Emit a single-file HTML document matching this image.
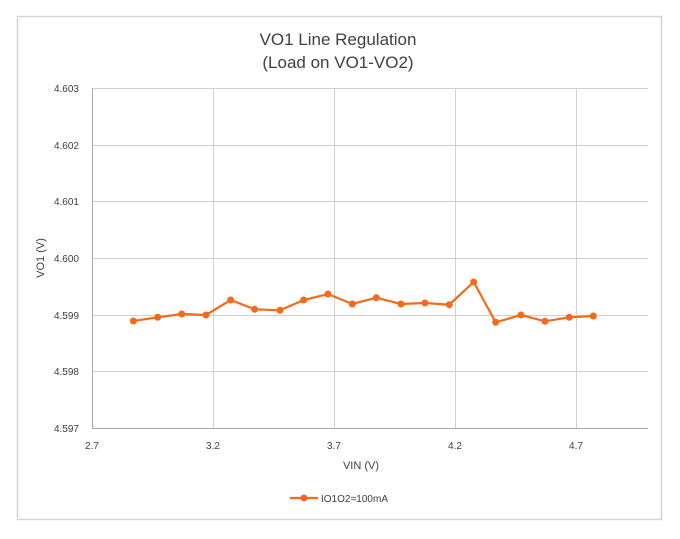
<!DOCTYPE html>
<html><head><style>body{margin:0;background:#fff}</style></head><body>
<svg width="680" height="534" xmlns="http://www.w3.org/2000/svg" font-family="Liberation Sans, sans-serif">
<rect x="0" y="0" width="680" height="534" fill="#fff"/>
<rect x="17.5" y="16.5" width="644" height="503" fill="#fff" stroke="#d4d4d4" stroke-width="1.5"/>
<text x="338" y="45" font-size="17" text-anchor="middle" fill="#404040">VO1 Line Regulation</text>
<text x="338" y="68" font-size="17" text-anchor="middle" fill="#404040">(Load on VO1-VO2)</text>
<g stroke="#d0d0d0" stroke-width="1">
<line x1="92" y1="88.5" x2="648" y2="88.5"/>
<line x1="92" y1="145.5" x2="648" y2="145.5"/>
<line x1="92" y1="201.5" x2="648" y2="201.5"/>
<line x1="92" y1="258.5" x2="648" y2="258.5"/>
<line x1="92" y1="315.5" x2="648" y2="315.5"/>
<line x1="92" y1="371.5" x2="648" y2="371.5"/>
<line x1="213.5" y1="88" x2="213.5" y2="428"/>
<line x1="334.5" y1="88" x2="334.5" y2="428"/>
<line x1="455.5" y1="88" x2="455.5" y2="428"/>
<line x1="576.5" y1="88" x2="576.5" y2="428"/>
</g>
<g stroke="#a6a6a6" stroke-width="1">
<line x1="92.5" y1="88" x2="92.5" y2="428"/>
<line x1="92" y1="428.5" x2="648" y2="428.5"/>
</g>
<g font-size="10" fill="#404040" text-anchor="end">
<text x="79" y="92">4.603</text><text x="79" y="149">4.602</text><text x="79" y="205">4.601</text>
<text x="79" y="262">4.600</text><text x="79" y="319">4.599</text><text x="79" y="375">4.598</text><text x="79" y="432">4.597</text>
</g>
<g font-size="10" fill="#404040" text-anchor="middle">
<text x="92" y="449">2.7</text><text x="213" y="449">3.2</text><text x="334" y="449">3.7</text><text x="455" y="449">4.2</text><text x="576" y="449">4.7</text>
</g>
<text x="361" y="469" font-size="11" fill="#404040" text-anchor="middle">VIN (V)</text>
<text x="44" y="258" font-size="11" fill="#404040" text-anchor="middle" transform="rotate(-90 44 258)">VO1 (V)</text>
<polyline fill="none" stroke="#f26a1b" stroke-width="2.2" points="133.3,321 157.7,317.3 181.7,314 206,315 230.7,300 254.7,309.3 280,310.3 303.7,300 328,294 352.3,304 376.3,297.7 401,304 425,303 449.3,304.7 473.7,282 495.7,322.3 521,315 545,321.3 569.3,317.3 593.3,316"/>
<g fill="#f26a1b">
<circle cx="133.3" cy="321" r="3.5"/><circle cx="157.7" cy="317.3" r="3.5"/><circle cx="181.7" cy="314" r="3.5"/><circle cx="206" cy="315" r="3.5"/><circle cx="230.7" cy="300" r="3.5"/><circle cx="254.7" cy="309.3" r="3.5"/><circle cx="280" cy="310.3" r="3.5"/><circle cx="303.7" cy="300" r="3.5"/><circle cx="328" cy="294" r="3.5"/><circle cx="352.3" cy="304" r="3.5"/><circle cx="376.3" cy="297.7" r="3.5"/><circle cx="401" cy="304" r="3.5"/><circle cx="425" cy="303" r="3.5"/><circle cx="449.3" cy="304.7" r="3.5"/><circle cx="473.7" cy="282" r="3.5"/><circle cx="495.7" cy="322.3" r="3.5"/><circle cx="521" cy="315" r="3.5"/><circle cx="545" cy="321.3" r="3.5"/><circle cx="569.3" cy="317.3" r="3.5"/><circle cx="593.3" cy="316" r="3.5"/>
</g>
<line x1="290" y1="498" x2="318" y2="498" stroke="#f26a1b" stroke-width="2.2"/>
<circle cx="304" cy="498" r="3.5" fill="#f26a1b"/>
<text x="321" y="502" font-size="10" fill="#404040">IO1O2=100mA</text>
</svg>
</body></html>
